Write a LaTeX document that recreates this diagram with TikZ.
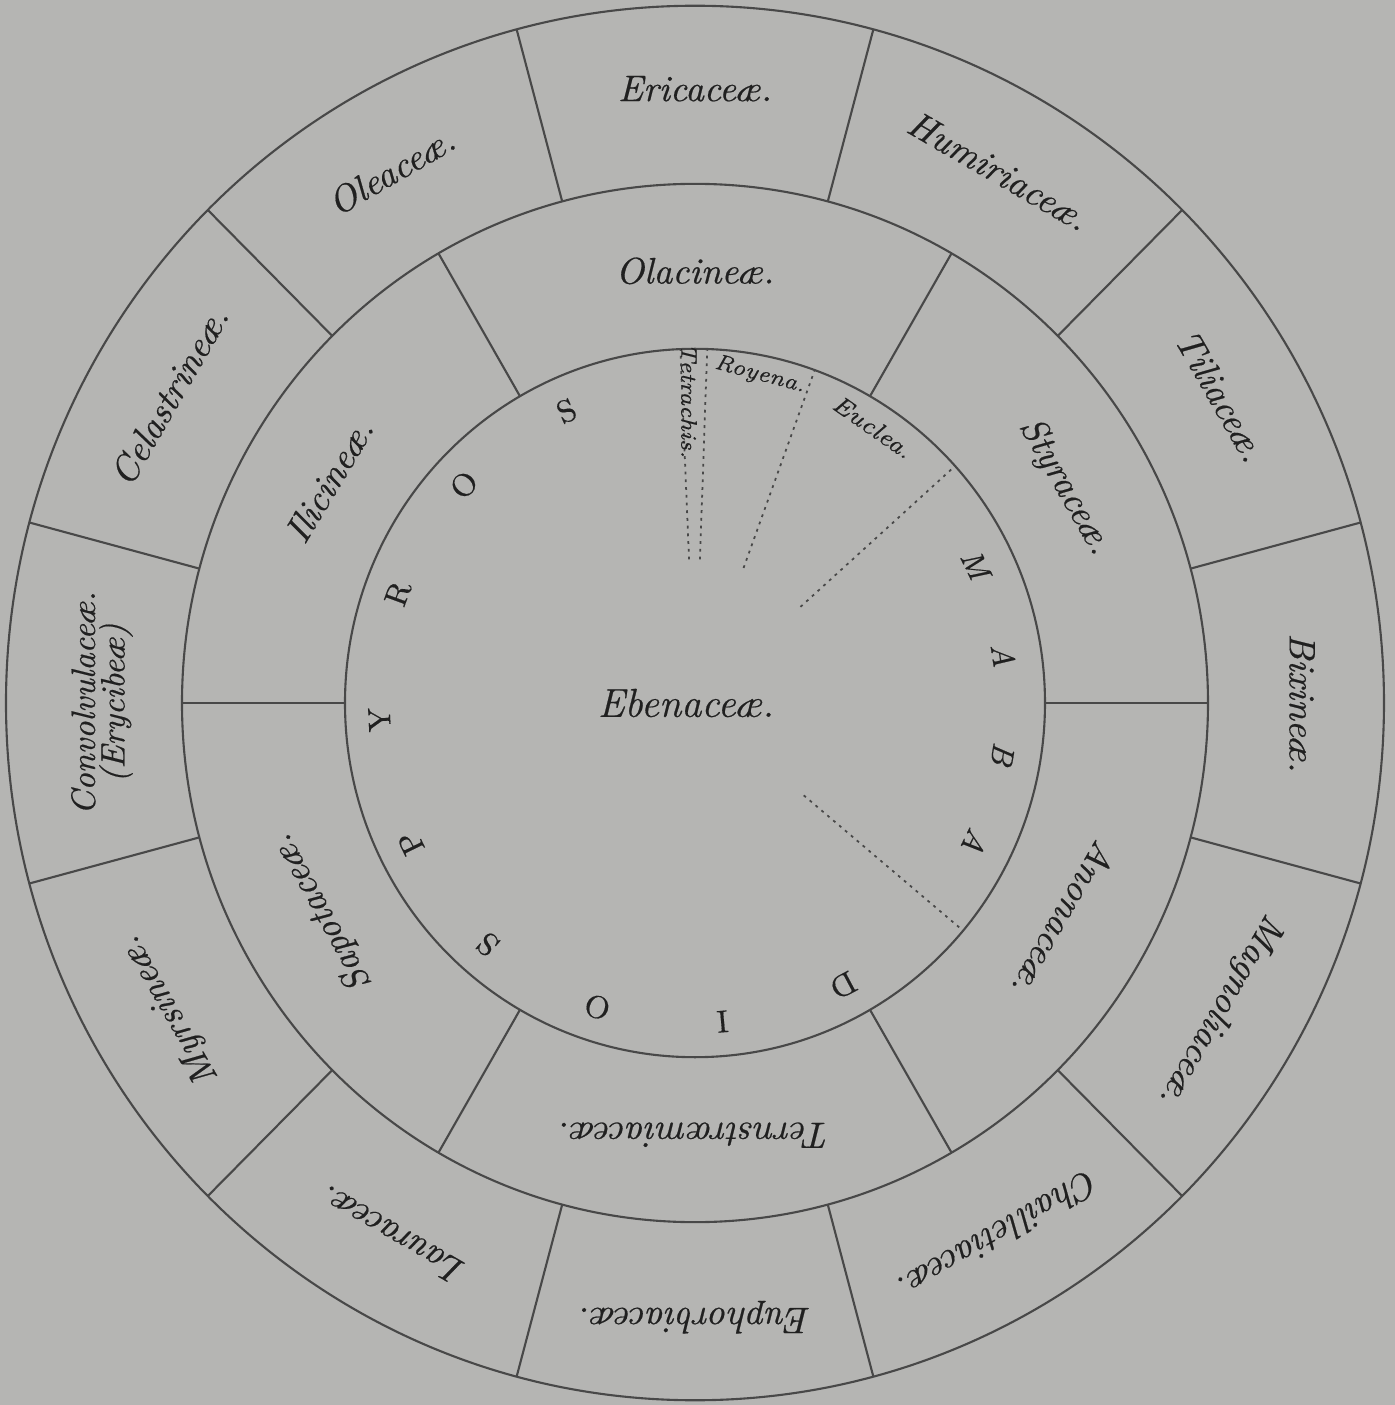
\documentclass[tikz,border=0pt]{standalone}
\usepackage{fontspec}
\setmainfont{Latin Modern Roman}[ItalicFeatures={FakeBold=0.5}, UprightFeatures={FakeBold=0.4}]
\usepackage{tikz}
\definecolor{bg}{RGB}{181,181,179}
\definecolor{ink}{RGB}{72,72,72}
\definecolor{txt}{RGB}{32,32,32}
\tikzset{
  ring/.style={draw=ink, line width=0.6pt},
  divider/.style={draw=ink, line width=0.6pt},
  dotline/.style={draw=ink, line width=0.5pt, dash pattern=on 0.8pt off 1.4pt},
  family/.style={font=\fontsize{10.5}{10}\selectfont\itshape, text=txt, inner sep=0pt},
  bigfamily/.style={font=\fontsize{11.5}{11}\selectfont\itshape, text=txt, inner sep=0pt},
  genus/.style={font=\fontsize{6.4}{6}\selectfont\itshape, text=txt, inner sep=0pt},
  letter/.style={font=\fontsize{9}{9}\selectfont, text=txt, inner sep=0pt},
  itletter/.style={font=\fontsize{9}{9}\selectfont\itshape, text=txt, inner sep=0pt},
}
\begin{document}
\begin{tikzpicture}
\fill[bg] (-6.95,-7.02) rectangle (7.00,7.03);
\useasboundingbox (-6.95,-7.02) rectangle (7.00,7.03);
\begin{scope}[yscale=1.012]
  % rings
  \draw[ring] (0,0) circle (6.89);
  \draw[ring] (0,0) circle (5.13);
  \draw[ring] (0,0) circle (3.50);
  % dividers of the outer ring (12 sectors)
  \foreach \a in {15,45,...,345} \draw[divider] (\a:5.13) -- (\a:6.89);
  % dividers of the middle ring (6 sectors)
  \foreach \a in {0,60,...,300} \draw[divider] (\a:3.50) -- (\a:5.13);
  % dotted divisions of the inner circle
  \foreach \a in {92.4,88,70,42,-40} \draw[dotline] (\a:1.42) -- (\a:3.50);

  % outer ring labels
  \foreach \a/\t/\n in {90/Ericace\ae./eric, 60/Humiriace\ae./humi, 30/Tiliace\ae./tili,
      0/Bixine\ae./bixi, -30/Magnoliace\ae./magn, -60/Chailletiace\ae./chai,
      -90/Euphorbiace\ae./euph, -120/Laurace\ae./laur, -150/Myrsine\ae./myrs,
      150/Celastrine\ae./cela, 120/Oleace\ae./olea}
    \node[family, rotate=\a-90] (\n) at (\a:6.07) {\t};
  \node[family, font=\fontsize{9.6}{8.4}\selectfont\itshape, align=center, rotate=90] (conv)
      at (180:5.93) {Convolvulace\ae.\\(Erycibe\ae)};

  % middle ring labels
  \foreach \a/\t/\n in {90/Olacine\ae./olac, 30/Styrace\ae./styr, -30/Anonace\ae./anon,
      -90/Ternstr\oe miace\ae./tern, -151/Sapotace\ae./sapo, 149/Ilicine\ae./ilic}
    \node[family, rotate=\a-90] (\n) at (\a:4.27) {\t};

  % DIOSPYROS
  \foreach \c [count=\i from 0] in {D,I,O,S,P,Y,R,O,S}
    \node[letter, rotate=-62-23*\i-90] (dio\i) at ({-62-23*\i}:3.16) {\c};
  % MABA
  \foreach \c/\a [count=\i] in {M/26,A/8.7,B/-9.3,A/-26}
    \node[itletter, rotate=\a-90] (maba\i) at (\a:3.12) {\c};
\end{scope}
% centre and genera
\node[bigfamily] (eben) at (-0.09,0) {Ebenace\ae.};
\node[genus, rotate=-90] (tetr) at (-0.06,3.02) {Tetrachis.};
\node[genus, rotate=-15] (roye) at (0.65,3.28) {Royena.};
\node[genus, font=\fontsize{7}{7}\selectfont\itshape, rotate=-35] (eucl) at (1.78,2.76) {Euclea.};
\end{tikzpicture}
\end{document}
